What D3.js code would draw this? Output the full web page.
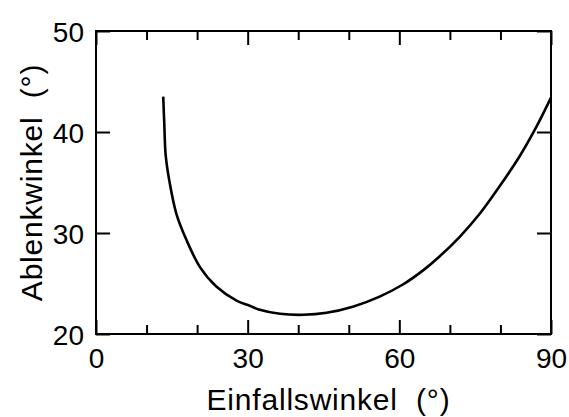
<!DOCTYPE html>
<html>
<head>
<meta charset="utf-8">
<script src="https://cdn.jsdelivr.net/npm/d3@7"></script>
<style>
  body { margin: 0; background: #fff; }
  text { font-family: "Liberation Sans", Arial, Helvetica, sans-serif; fill: #000; }
  .axis path, .axis line { stroke: #000; stroke-width: 2; }
</style>
</head>
<body>
<div id="chart"></div>
<script>
// values
var einfall = [13.3, 13.5, 13.8, 14.6, 15.9, 17.9, 20.6, 23.8, 27.8, 30.4, 32.4, 36.4, 41, 45.6, 50.8, 56.1, 60.7, 64.7, 68, 71.9, 75.9, 79.8, 83.8, 87.1, 90];
var ablenk  = [43.5, 40.9, 37.6, 34.9, 31.9, 29.3, 26.6, 24.7, 23.3, 22.8, 22.4, 22.0, 21.9, 22.1, 22.7, 23.7, 24.9, 26.3, 27.7, 29.6, 31.9, 34.6, 37.6, 40.5, 43.4];
var xMajor = [0, 30, 60, 90];
var xMinor = [10, 20, 40, 50, 70, 80];
var yTicks = [20, 30, 40, 50];

var margin = {top: 31, right: 18, bottom: 83, left: 96},
    width = 569 - margin.left - margin.right,
    height = 417 - margin.top - margin.bottom;

var x = d3.scaleLinear().domain([0, 90]).range([0, width]);
var y = d3.scaleLinear().domain([20, 50]).range([height, 0]);

var svg = d3.select("#chart").append("svg")
    .attr("width", 569)
    .attr("height", 417)
  .append("g")
    .attr("transform", "translate(" + margin.left + "," + margin.top + ")");

// frame
svg.append("rect")
  .attr("x", 0).attr("y", 0)
  .attr("width", width).attr("height", height)
  .style("fill", "none").style("stroke", "#000").style("stroke-width", 2);

// bottom axis, ticks pointing inward
var bottom = svg.append("g")
  .attr("class", "axis")
  .attr("transform", "translate(0," + height + ")")
  .call(d3.axisBottom(x).tickValues(xMajor).tickSize(-14).tickPadding(14));
bottom.select(".domain").remove();
bottom.selectAll("text").style("font-size", "28px");

svg.append("g")
  .attr("class", "axis")
  .attr("transform", "translate(0," + height + ")")
  .call(d3.axisBottom(x).tickValues(xMinor).tickSize(-9).tickFormat(""))
  .select(".domain").remove();

// top axis mirrors
svg.append("g")
  .attr("class", "axis")
  .call(d3.axisTop(x).tickValues(xMajor).tickSize(-14).tickFormat(""))
  .select(".domain").remove();
svg.append("g")
  .attr("class", "axis")
  .call(d3.axisTop(x).tickValues(xMinor).tickSize(-9).tickFormat(""))
  .select(".domain").remove();

// left axis
var left = svg.append("g")
  .attr("class", "axis")
  .call(d3.axisLeft(y).tickValues(yTicks).tickSize(-14).tickPadding(12));
left.select(".domain").remove();
left.selectAll("text").style("font-size", "28px").attr("dy", "0.36em");

// right axis
svg.append("g")
  .attr("class", "axis")
  .attr("transform", "translate(" + width + ",0)")
  .call(d3.axisRight(y).tickValues(yTicks).tickSize(-14).tickFormat(""))
  .select(".domain").remove();

// curve
var pts = einfall.map(function(d, i) { return [d, ablenk[i]]; });
var line = d3.line()
  .x(function(d) { return x(d[0]); })
  .y(function(d) { return y(d[1]); })
  .curve(d3.curveCatmullRom);

svg.append("path")
  .datum(pts)
  .attr("d", line)
  .style("fill", "none")
  .style("stroke", "#000")
  .style("stroke-width", 2.6);

// axis titles
svg.append("text")
  .attr("x", width / 2 + 5)
  .attr("y", height + 76)
  .attr("text-anchor", "middle")
  .style("font-size", "30px")
  .style("letter-spacing", "0.8px")
  .style("white-space", "pre")
  .text("Einfallswinkel  (°)");

svg.append("text")
  .attr("transform", "translate(" + (41.5 - margin.left) + "," + (height / 2) + ") rotate(-90)")
  .attr("text-anchor", "middle")
  .style("font-size", "30px")
  .style("letter-spacing", "0.8px")
  .style("white-space", "pre")
  .text("Ablenkwinkel  (°)");
</script>
</body>
</html>
